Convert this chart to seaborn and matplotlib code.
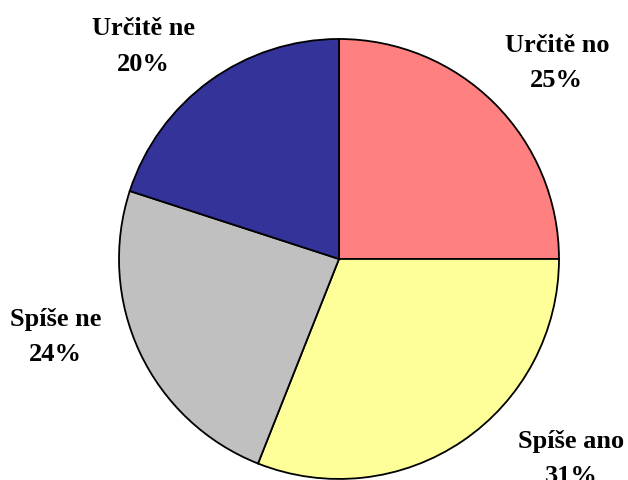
import matplotlib
matplotlib.use("Agg")
import matplotlib.pyplot as plt
import seaborn as sns

# Data
labels = ["Určitě no", "Spíše ano", "Spíše ne", "Určitě ne"]
shares = [25, 31, 24, 20]
colors = ["#FF8080", "#FFFF99", "#C0C0C0", "#333399"]
# label centres in data units (radius = 1)
label_pos = [(0.99, 0.895), (1.055, -0.905), (-1.29, -0.35), (-0.89, 0.97)]

sns.set_style("white")
plt.rcParams["font.family"] = ["Liberation Serif", "DejaVu Serif"]

fig = plt.figure(figsize=(6.28, 4.81), dpi=100)
ax = fig.add_axes([0.1895, 0.0021, 0.7006, 0.9148])

ax.pie(shares, colors=colors, startangle=90, counterclock=False,
       wedgeprops=dict(edgecolor="black", linewidth=1.3))
ax.set_xlim(-1, 1)
ax.set_ylim(-1, 1)
ax.set_aspect("equal")
ax.axis("off")

for lab, val, (x, y) in zip(labels, shares, label_pos):
    ax.text(x, y, f"{lab}\n{val}%", ha="center", va="center", color="black",
            fontsize=19, fontweight="bold", linespacing=1.7, clip_on=False)

fig.savefig("out.png", dpi=100, facecolor="white")
